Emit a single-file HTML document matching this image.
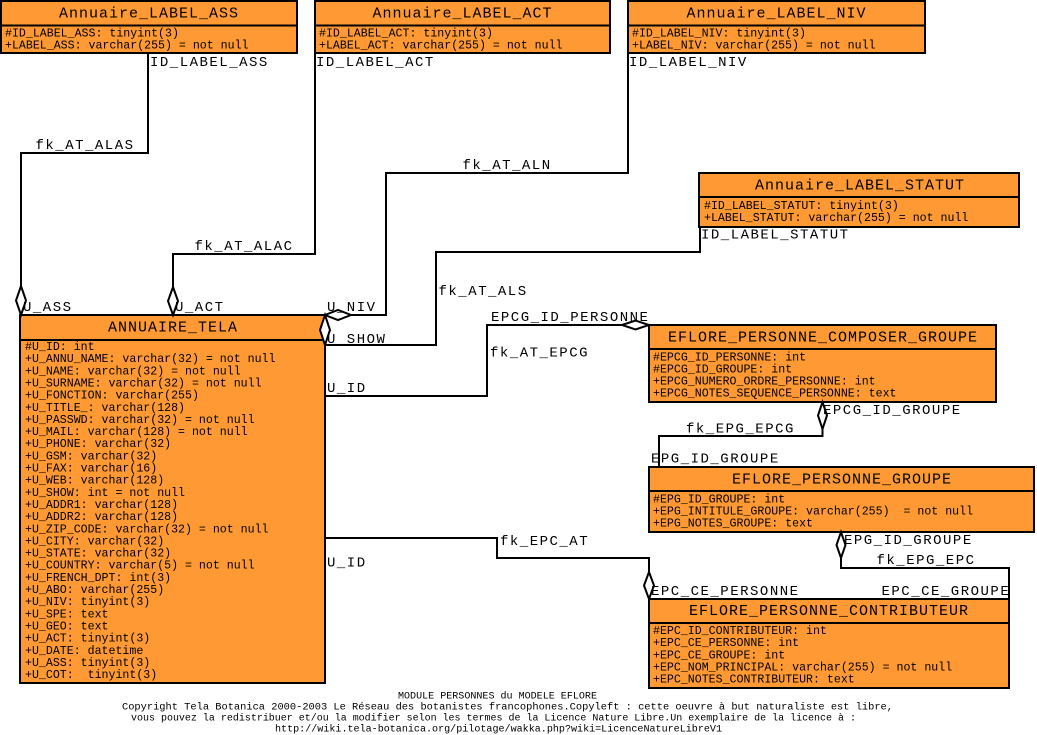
<!DOCTYPE html>
<html><head><meta charset="utf-8"><style>
html,body{margin:0;padding:0;background:#fff;width:1037px;height:735px;overflow:hidden}
svg{display:block}
.t{font-family:"Liberation Mono",monospace;font-size:15px;letter-spacing:1px;text-anchor:middle;fill:#000}
.l{font-family:"Liberation Mono",monospace;font-size:14px;letter-spacing:1.5px;fill:#000}
.a{font-family:"Liberation Mono",monospace;font-size:11.6px;fill:#000;white-space:pre}
.f{font-family:"Liberation Mono",monospace;font-size:10px;fill:#000;white-space:pre}
.box{fill:#FF9933;stroke:#000;stroke-width:2}
.sep{stroke:#000;stroke-width:2}
.ln{fill:none;stroke:#000;stroke-width:2}
.d{fill:#fff;stroke:#000;stroke-width:2}
</style></head><body>
<svg width="1037" height="735" viewBox="0 0 1037 735" xmlns="http://www.w3.org/2000/svg">
<!-- connectors -->
<path class="ln" d="M148,53 V153 H21 V286"/>
<path class="ln" d="M315,53 V254 H173 V287"/>
<path class="ln" d="M628,53 V173 H386 V315 H351"/>
<path class="ln" d="M700,227 V252 H436 V345 H325"/>
<path class="ln" d="M325,396 H487 V325 H622"/>
<path class="ln" d="M325,538 H497 V558 H649 V572"/>
<path class="ln" d="M822.5,429 V436 H659 V467"/>
<path class="ln" d="M841,558 V568 H1009 V599"/>

<!-- Annuaire_LABEL_ASS -->
<rect class="box" x="1" y="1" width="296" height="52"/>
<line class="sep" x1="1" y1="25.5" x2="297" y2="25.5"/>
<text class="t" x="149" y="17.5">Annuaire_LABEL_ASS</text>
<text class="a" x="5" y="36.5">#ID_LABEL_ASS: tinyint(3)</text>
<text class="a" x="5" y="48.7">+LABEL_ASS: varchar(255) = not null</text>

<!-- Annuaire_LABEL_ACT -->
<rect class="box" x="315" y="1" width="295" height="52"/>
<line class="sep" x1="315" y1="25.5" x2="610" y2="25.5"/>
<text class="t" x="462.5" y="17.5">Annuaire_LABEL_ACT</text>
<text class="a" x="319" y="36.5">#ID_LABEL_ACT: tinyint(3)</text>
<text class="a" x="319" y="48.7">+LABEL_ACT: varchar(255) = not null</text>

<!-- Annuaire_LABEL_NIV -->
<rect class="box" x="628" y="1" width="297" height="52"/>
<line class="sep" x1="628" y1="25.5" x2="925" y2="25.5"/>
<text class="t" x="776.5" y="17.5">Annuaire_LABEL_NIV</text>
<text class="a" x="632" y="36.5">#ID_LABEL_NIV: tinyint(3)</text>
<text class="a" x="632" y="48.7">+LABEL_NIV: varchar(255) = not null</text>

<!-- Annuaire_LABEL_STATUT -->
<rect class="box" x="699" y="173" width="320" height="54"/>
<line class="sep" x1="699" y1="197" x2="1019" y2="197"/>
<text class="t" x="860" y="189.5">Annuaire_LABEL_STATUT</text>
<text class="a" x="704" y="209">#ID_LABEL_STATUT: tinyint(3)</text>
<text class="a" x="704" y="221">+LABEL_STATUT: varchar(255) = not null</text>

<!-- ANNUAIRE_TELA -->
<rect class="box" x="20" y="315" width="305" height="368"/>
<line class="sep" x1="20" y1="340" x2="325" y2="340"/>
<text class="t" x="173" y="331.7">ANNUAIRE_TELA</text>
<text class="a" x="25" y="350">#U_ID: int</text>
<text class="a" x="25" y="362.15">+U_ANNU_NAME: varchar(32) = not null</text>
<text class="a" x="25" y="374.3">+U_NAME: varchar(32) = not null</text>
<text class="a" x="25" y="386.45">+U_SURNAME: varchar(32) = not null</text>
<text class="a" x="25" y="398.6">+U_FONCTION: varchar(255)</text>
<text class="a" x="25" y="410.75">+U_TITLE_: varchar(128)</text>
<text class="a" x="25" y="422.9">+U_PASSWD: varchar(32) = not null</text>
<text class="a" x="25" y="435.05">+U_MAIL: varchar(128) = not null</text>
<text class="a" x="25" y="447.2">+U_PHONE: varchar(32)</text>
<text class="a" x="25" y="459.35">+U_GSM: varchar(32)</text>
<text class="a" x="25" y="471.5">+U_FAX: varchar(16)</text>
<text class="a" x="25" y="483.65">+U_WEB: varchar(128)</text>
<text class="a" x="25" y="495.8">+U_SHOW: int = not null</text>
<text class="a" x="25" y="507.95">+U_ADDR1: varchar(128)</text>
<text class="a" x="25" y="520.1">+U_ADDR2: varchar(128)</text>
<text class="a" x="25" y="532.25">+U_ZIP_CODE: varchar(32) = not null</text>
<text class="a" x="25" y="544.4">+U_CITY: varchar(32)</text>
<text class="a" x="25" y="556.55">+U_STATE: varchar(32)</text>
<text class="a" x="25" y="568.7">+U_COUNTRY: varchar(5) = not null</text>
<text class="a" x="25" y="580.85">+U_FRENCH_DPT: int(3)</text>
<text class="a" x="25" y="593">+U_ABO: varchar(255)</text>
<text class="a" x="25" y="605.15">+U_NIV: tinyint(3)</text>
<text class="a" x="25" y="617.3">+U_SPE: text</text>
<text class="a" x="25" y="629.45">+U_GEO: text</text>
<text class="a" x="25" y="641.6">+U_ACT: tinyint(3)</text>
<text class="a" x="25" y="653.75">+U_DATE: datetime</text>
<text class="a" x="25" y="665.9">+U_ASS: tinyint(3)</text>
<text class="a" x="25" y="678.05">+U_COT:  tinyint(3)</text>

<!-- EFLORE_PERSONNE_COMPOSER_GROUPE -->
<rect class="box" x="649" y="325" width="347" height="77"/>
<line class="sep" x1="649" y1="349" x2="996" y2="349"/>
<text class="t" x="823" y="341.7">EFLORE_PERSONNE_COMPOSER_GROUPE</text>
<text class="a" x="653" y="360.7">#EPCG_ID_PERSONNE: int</text>
<text class="a" x="653" y="372.7">#EPCG_ID_GROUPE: int</text>
<text class="a" x="653" y="384.7">+EPCG_NUMERO_ORDRE_PERSONNE: int</text>
<text class="a" x="653" y="396.7">+EPCG_NOTES_SEQUENCE_PERSONNE: text</text>

<!-- EFLORE_PERSONNE_GROUPE -->
<rect class="box" x="649" y="467" width="385" height="65"/>
<line class="sep" x1="649" y1="491" x2="1034" y2="491"/>
<text class="t" x="842" y="483.3">EFLORE_PERSONNE_GROUPE</text>
<text class="a" x="653" y="502.3">#EPG_ID_GROUPE: int</text>
<text class="a" x="653" y="514.5">+EPG_INTITULE_GROUPE: varchar(255)  = not null</text>
<text class="a" x="653" y="526.6">+EPG_NOTES_GROUPE: text</text>

<!-- EFLORE_PERSONNE_CONTRIBUTEUR -->
<rect class="box" x="649" y="599" width="360" height="89"/>
<line class="sep" x1="649" y1="623" x2="1009" y2="623"/>
<text class="t" x="829" y="615">EFLORE_PERSONNE_CONTRIBUTEUR</text>
<text class="a" x="653" y="634">#EPC_ID_CONTRIBUTEUR: int</text>
<text class="a" x="653" y="646.2">+EPC_CE_PERSONNE: int</text>
<text class="a" x="653" y="658.3">+EPC_CE_GROUPE: int</text>
<text class="a" x="653" y="670.5">+EPC_NOM_PRINCIPAL: varchar(255) = not null</text>
<text class="a" x="653" y="682.6">+EPC_NOTES_CONTRIBUTEUR: text</text>

<!-- diamonds -->
<polygon class="d" points="21,286 26,300.5 21,315 16,300.5"/>
<polygon class="d" points="173,287 178,301 173,315 168,301"/>
<polygon class="d" points="325,315 338,310 351,315 338,320"/>
<polygon class="d" points="325,315 330,330 325,345 320,330"/>
<polygon class="d" points="622,325 635.5,320.5 649,325 635.5,329.5"/>
<polygon class="d" points="649,572 654,585.5 649,599 644,585.5"/>
<polygon class="d" points="822.5,402 827,415.5 822.5,429 818,415.5"/>
<polygon class="d" points="841,532 845.5,545 841,558 836.5,545"/>

<!-- connector labels -->
<text class="l" x="150" y="66">ID_LABEL_ASS</text>
<text class="l" x="316" y="66">ID_LABEL_ACT</text>
<text class="l" x="629" y="66">ID_LABEL_NIV</text>
<text class="l" x="35.5" y="149">fk_AT_ALAS</text>
<text class="l" x="462.5" y="169">fk_AT_ALN</text>
<text class="l" x="701" y="238.5">ID_LABEL_STATUT</text>
<text class="l" x="194.5" y="250">fk_AT_ALAC</text>
<text class="l" x="438.5" y="295">fk_AT_ALS</text>
<text class="l" x="23" y="311">U_ASS</text>
<text class="l" x="175" y="311">U_ACT</text>
<text class="l" x="327" y="311">U_NIV</text>
<text class="l" x="327" y="343">U_SHOW</text>
<text class="l" x="491" y="321">EPCG_ID_PERSONNE</text>
<text class="l" x="490" y="356.5">fk_AT_EPCG</text>
<text class="l" x="327" y="392">U_ID</text>
<text class="l" x="823" y="414">EPCG_ID_GROUPE</text>
<text class="l" x="686" y="432.5">fk_EPG_EPCG</text>
<text class="l" x="651" y="462.5">EPG_ID_GROUPE</text>
<text class="l" x="500" y="545">fk_EPC_AT</text>
<text class="l" x="327" y="566.5">U_ID</text>
<text class="l" x="844" y="544">EPG_ID_GROUPE</text>
<text class="l" x="876.5" y="564">fk_EPG_EPC</text>
<text class="l" x="651" y="595">EPC_CE_PERSONNE</text>
<text class="l" x="881.5" y="595">EPC_CE_GROUPE</text>

<!-- footer -->
<text class="f" x="398" y="698.5" textLength="199" lengthAdjust="spacingAndGlyphs">MODULE PERSONNES du MODELE EFLORE</text>
<text class="f" x="122" y="709.5" textLength="771" lengthAdjust="spacingAndGlyphs">Copyright Tela Botanica 2000-2003 Le Réseau des botanistes francophones.Copyleft : cette oeuvre à but naturaliste est libre,</text>
<text class="f" x="131" y="720.5" textLength="725" lengthAdjust="spacingAndGlyphs">vous pouvez la redistribuer et/ou la modifier selon les termes de la Licence Nature Libre.Un exemplaire de la licence à :</text>
<text class="f" x="275" y="731.5" textLength="447" lengthAdjust="spacingAndGlyphs">http://wiki.tela-botanica.org/pilotage/wakka.php?wiki=LicenceNatureLibreV1</text>
</svg>
</body></html>
